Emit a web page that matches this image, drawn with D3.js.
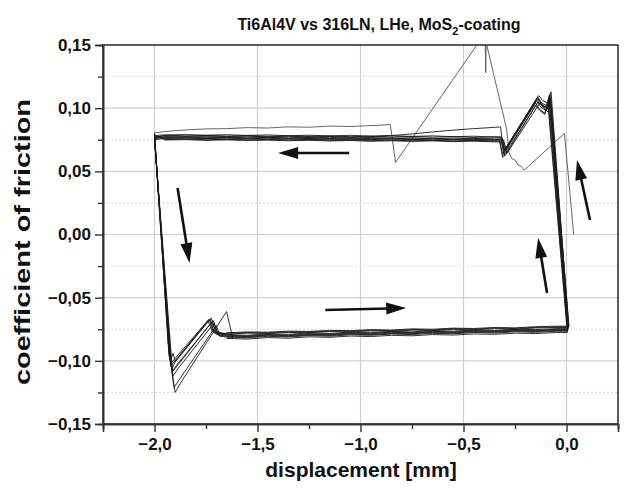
<!DOCTYPE html>
<html><head><meta charset="utf-8">
<script src="https://cdn.jsdelivr.net/npm/d3@7"></script>
<style>
body{margin:0;background:#fff}
text{font-family:"Liberation Sans",Arial,sans-serif;font-weight:bold;fill:#111}
</style>
</head><body>
<svg id="c" width="632" height="490"></svg>
<script>
// ---- axis ticks ----
const xMajor = [-2.0, -1.5, -1.0, -0.5, 0.0];
const xMinor = [-2.25, -1.75, -1.25, -0.75, -0.25, 0.25];
const yMajor = [0.15, 0.10, 0.05, 0.00, -0.05, -0.10, -0.15];
const yMinor = [0.125, 0.075, 0.025, -0.025, -0.075, -0.125];

// ---- first (run-in) sweep ----
const firstSweep = [[0.035,0.0],[-0.01,0.080],[-0.205,0.051],[-0.22,0.054],[-0.235,0.055],[-0.25,0.059],[-0.265,0.060],[-0.28,0.065],[-0.29,0.083],[-0.39,0.152],[-0.392,0.128],[-0.395,0.156],[-0.41,0.156],[-0.83,0.057],[-0.855,0.087],[-0.95,0.0862],[-1.05,0.0855],[-1.15,0.0858],[-1.25,0.0849],[-1.35,0.0852],[-1.45,0.0843],[-1.55,0.0846],[-1.65,0.0838],[-1.75,0.0836],[-1.85,0.0828],[-1.95,0.0815],[-2.0,0.0805]];

// ---- shared x positions of the sliding branches ----
const topX = [-0.35,-0.45,-0.55,-0.65,-0.75,-0.85,-0.95,-1.05,-1.15,-1.25,-1.35,-1.45,-1.55,-1.65,-1.75,-1.85,-1.95];
const botX = [-1.65,-1.55,-1.45,-1.35,-1.25,-1.15,-1.05,-0.95,-0.85,-0.75,-0.65,-0.55,-0.45,-0.35,-0.25,-0.15,-0.05];

// ---- left reversals (x=-2 -> start of lower branch), one per cycle ----
const leftTurns = [
 [[-2.0,0.0805],[-1.93,-0.095],[-1.92,-0.104],[-1.90,-0.100],[-1.73,-0.067],[-1.71,-0.078]],
 [[-2.0,0.0784],[-1.925,-0.098],[-1.915,-0.109],[-1.895,-0.104],[-1.72,-0.069],[-1.70,-0.079]],
 [[-2.0,0.0770],[-1.93,-0.092],[-1.92,-0.099],[-1.91,-0.094],[-1.90,-0.100],[-1.74,-0.068],[-1.72,-0.077]],
 [[-2.0,0.0763],[-1.92,-0.103],[-1.91,-0.112],[-1.885,-0.106],[-1.71,-0.070],[-1.69,-0.080]],
 [[-2.0,0.0750],[-1.915,-0.110],[-1.905,-0.121],[-1.88,-0.115],[-1.70,-0.072],[-1.68,-0.081]],
 [[-2.0,0.0788],[-1.925,-0.097],[-1.915,-0.106],[-1.90,-0.101],[-1.725,-0.066],[-1.705,-0.076]],
 [[-2.0,0.0765],[-1.92,-0.101],[-1.91,-0.108],[-1.89,-0.104],[-1.715,-0.068],[-1.695,-0.078]],
 [[-2.0,0.0778],[-1.93,-0.094],[-1.92,-0.102],[-1.90,-0.098],[-1.735,-0.067],[-1.715,-0.077]],
 [[-2.0,0.0755],[-1.91,-0.114],[-1.90,-0.125],[-1.875,-0.118],[-1.65,-0.061],[-1.635,-0.0715],[-1.62,-0.082]]
];

// ---- lower branch (moving right), y at botX ----
const bottomY = [
 [-0.0792,-0.0798,-0.0786,-0.0790,-0.0779,-0.0784,-0.0773,-0.0777,-0.0767,-0.0771,-0.0761,-0.0765,-0.0756,-0.0760,-0.0750,-0.0753,-0.0745],
 [-0.0807,-0.0813,-0.0801,-0.0806,-0.0795,-0.0799,-0.0788,-0.0793,-0.0782,-0.0786,-0.0776,-0.0780,-0.0770,-0.0774,-0.0764,-0.0768,-0.0760],
 [-0.0788,-0.0781,-0.0783,-0.0775,-0.0777,-0.0769,-0.0771,-0.0763,-0.0766,-0.0757,-0.0760,-0.0751,-0.0754,-0.0746,-0.0749,-0.0740,-0.0736],
 [-0.0812,-0.0818,-0.0806,-0.0811,-0.0800,-0.0805,-0.0794,-0.0798,-0.0788,-0.0792,-0.0782,-0.0786,-0.0776,-0.0780,-0.0770,-0.0774,-0.0766],
 [-0.0778,-0.0771,-0.0773,-0.0765,-0.0767,-0.0759,-0.0761,-0.0753,-0.0756,-0.0747,-0.0750,-0.0741,-0.0744,-0.0736,-0.0739,-0.0730,-0.0726],
 [-0.0797,-0.0803,-0.0791,-0.0796,-0.0785,-0.0790,-0.0779,-0.0783,-0.0773,-0.0777,-0.0767,-0.0771,-0.0761,-0.0765,-0.0756,-0.0759,-0.0751],
 [-0.0783,-0.0776,-0.0778,-0.0770,-0.0772,-0.0764,-0.0766,-0.0758,-0.0761,-0.0752,-0.0755,-0.0746,-0.0749,-0.0741,-0.0744,-0.0735,-0.0731],
 [-0.0802,-0.0808,-0.0796,-0.0801,-0.0790,-0.0794,-0.0783,-0.0788,-0.0777,-0.0781,-0.0771,-0.0775,-0.0766,-0.0770,-0.0760,-0.0763,-0.0755],
 [-0.0822,-0.0828,-0.0816,-0.0821,-0.0810,-0.0814,-0.0804,-0.0808,-0.0798,-0.0802,-0.0792,-0.0796,-0.0787,-0.0790,-0.0781,-0.0784,-0.0776]
];

// ---- right reversals (x=0 -> start of upper branch), one per cycle ----
const rightTurns = [
 [[0.008,-0.0745],[-0.080,0.110],[-0.095,0.100],[-0.12,0.103],[-0.14,0.108],[-0.30,0.066],[-0.315,0.0770]],
 [[0.006,-0.0760],[-0.085,0.106],[-0.10,0.098],[-0.125,0.101],[-0.145,0.106],[-0.305,0.064],[-0.32,0.0852]],
 [[0.010,-0.0736],[-0.075,0.113],[-0.09,0.104],[-0.115,0.106],[-0.135,0.110],[-0.295,0.068],[-0.31,0.0753]],
 [[0.005,-0.0766],[-0.088,0.104],[-0.105,0.096],[-0.13,0.099],[-0.15,0.104],[-0.31,0.063],[-0.325,0.0747]],
 [[0.012,-0.0726],[-0.078,0.108],[-0.093,0.099],[-0.118,0.102],[-0.138,0.105],[-0.30,0.062],[-0.315,0.0734]],
 [[0.007,-0.0751],[-0.082,0.111],[-0.097,0.102],[-0.12,0.104],[-0.14,0.109],[-0.30,0.067],[-0.315,0.0772]],
 [[0.011,-0.0731],[-0.076,0.107],[-0.09,0.097],[-0.11,0.100],[-0.13,0.104],[-0.29,0.064],[-0.305,0.0748]],
 [[0.006,-0.0755],[-0.084,0.109],[-0.10,0.101],[-0.122,0.103],[-0.142,0.107],[-0.305,0.066],[-0.32,0.0762]],
 [[0.004,-0.0776],[-0.09,0.103],[-0.105,0.095],[-0.128,0.098],[-0.15,0.102],[-0.31,0.061],[-0.325,0.0740]]
];

// ---- upper branch (moving left), y at topX ----
const topY = [
 [0.0772,0.0778,0.0774,0.0781,0.0776,0.0783,0.0779,0.0785,0.0780,0.0786,0.0782,0.0788,0.0784,0.0790,0.0786,0.0791,0.0788],
 [0.0848,0.0838,0.0826,0.0812,0.0796,0.0783,0.0774,0.0770,0.0776,0.0771,0.0778,0.0773,0.0779,0.0775,0.0781,0.0777,0.0782],
 [0.0752,0.0759,0.0755,0.0761,0.0757,0.0763,0.0759,0.0764,0.0760,0.0766,0.0762,0.0768,0.0764,0.0770,0.0766,0.0771,0.0768],
 [0.0748,0.0743,0.0750,0.0746,0.0752,0.0747,0.0754,0.0749,0.0755,0.0751,0.0757,0.0753,0.0758,0.0754,0.0760,0.0756,0.0761],
 [0.0733,0.0739,0.0735,0.0741,0.0737,0.0742,0.0738,0.0744,0.0740,0.0746,0.0742,0.0747,0.0744,0.0749,0.0745,0.0751,0.0748],
 [0.0773,0.0768,0.0775,0.0771,0.0777,0.0772,0.0778,0.0774,0.0780,0.0776,0.0781,0.0777,0.0783,0.0779,0.0784,0.0780,0.0786],
 [0.0747,0.0753,0.0749,0.0755,0.0751,0.0757,0.0753,0.0758,0.0754,0.0760,0.0756,0.0762,0.0758,0.0763,0.0759,0.0765,0.0762],
 [0.0763,0.0757,0.0764,0.0760,0.0766,0.0762,0.0768,0.0763,0.0769,0.0765,0.0771,0.0767,0.0772,0.0768,0.0774,0.0770,0.0776],
 [0.0738,0.0744,0.0740,0.0746,0.0742,0.0747,0.0743,0.0749,0.0745,0.0751,0.0747,0.0752,0.0748,0.0754,0.0750,0.0756,0.0752]
];

// ---- direction arrows: [tailX, tailY, tipX, tipY] in data units ----
const arrows = [
 [-1.055, 0.0645, -1.40, 0.0645],
 [-1.888, 0.0368, -1.83, -0.0226],
 [-1.171, -0.0598, -0.778, -0.0582],
 [-0.0945, -0.0463, -0.138, -0.0028],
 [0.114, 0.0115, 0.051, 0.059]
];

const svg = d3.select("#c");
const L = 103, R = 618, T = 45, B = 424;
const x = d3.scaleLinear().domain([-2.25, 0.25]).range([L, R]);
const y = d3.scaleLinear().domain([-0.15, 0.15]).range([B, T]);
const fmt = v => d3.format(".2f")(v).replace(".", ",").replace("-0,00","0,00");
const fmtX = v => d3.format(".1f")(v).replace(".", ",").replace("-0,0","0,0");

// grid
const grid = svg.append("g");
grid.selectAll("line.gx").data(xMajor).join("line")
  .attr("x1", d => x(d)).attr("x2", d => x(d)).attr("y1", T).attr("y2", B)
  .attr("stroke", "#cfcfcf").attr("stroke-width", 1.2);
grid.selectAll("line.gy").data(yMajor.filter(v => Math.abs(v) < 0.14)).join("line")
  .attr("x1", L).attr("x2", R).attr("y1", d => y(d)).attr("y2", d => y(d))
  .attr("stroke", "#cfcfcf").attr("stroke-width", 1.2);
grid.selectAll("line.gm").data(yMinor).join("line")
  .attr("x1", L).attr("x2", R).attr("y1", d => y(d)).attr("y2", d => y(d))
  .attr("stroke", "#d8d8d8").attr("stroke-width", 1).attr("stroke-dasharray", "2,2");

// clip
svg.append("clipPath").attr("id", "clip").append("rect")
  .attr("x", L).attr("y", T).attr("width", R - L).attr("height", B - T);

const line = d3.line().x(d => x(d[0])).y(d => y(d[1]));
const cyclesPts = [];
for (let i = 0; i < leftTurns.length; i++) {
  cyclesPts.push(...leftTurns[i]);
  botX.forEach((xx, j) => cyclesPts.push([xx, bottomY[i][j]]));
  cyclesPts.push(...rightTurns[i]);
  topX.forEach((xx, j) => cyclesPts.push([xx, topY[i][j]]));
}
const plot = svg.append("g").attr("clip-path", "url(#clip)");
plot.append("path").attr("d", line(firstSweep)).attr("fill", "none")
  .attr("stroke", "#555").attr("stroke-width", 0.9).attr("stroke-linejoin", "round");
plot.append("path").attr("d", line(cyclesPts)).attr("fill", "none")
  .attr("stroke", "#1a1a1a").attr("stroke-width", 0.9).attr("stroke-linejoin", "round");

// arrows
const arrG = svg.append("g");
arrows.forEach(a => {
  const x1 = x(a[0]), y1 = y(a[1]), x2 = x(a[2]), y2 = y(a[3]);
  const dx = x2 - x1, dy = y2 - y1, len = Math.hypot(dx, dy);
  const ux = dx / len, uy = dy / len, hl = 20, hw = 6;
  const bx = x2 - ux * hl, by = y2 - uy * hl;
  arrG.append("line").attr("x1", x1).attr("y1", y1).attr("x2", bx + ux * 2).attr("y2", by + uy * 2)
    .attr("stroke", "#111").attr("stroke-width", 2.6);
  arrG.append("path").attr("d", `M${x2},${y2}L${bx - uy * hw},${by + ux * hw}L${bx + uy * hw},${by - ux * hw}Z`)
    .attr("fill", "#111");
});

// frame
svg.append("rect").attr("x", L).attr("y", T).attr("width", R - L).attr("height", B - T)
  .attr("fill", "none").attr("stroke", "#333").attr("stroke-width", 1.6);

// axes
svg.append("g").attr("transform", `translate(0,${B})`)
  .call(d3.axisBottom(x).tickValues(xMajor).tickSize(8).tickPadding(6).tickFormat(fmtX));
svg.append("g").attr("transform", `translate(0,${B})`)
  .call(d3.axisBottom(x).tickValues(xMinor).tickSize(5).tickFormat(""));
svg.append("g").attr("transform", `translate(${L},0)`)
  .call(d3.axisLeft(y).tickValues(yMajor).tickSize(8).tickPadding(4).tickFormat(fmt));
svg.append("g").attr("transform", `translate(${L},0)`)
  .call(d3.axisLeft(y).tickValues(yMinor).tickSize(5).tickFormat(""));
svg.selectAll(".domain").attr("stroke", "#333").attr("stroke-width", 1.6);
svg.selectAll(".tick line").attr("stroke", "#333").attr("stroke-width", 1.4);
svg.selectAll(".tick text").attr("font-size", 17).attr("font-family", "Liberation Sans, Arial, sans-serif")
  .attr("font-weight", "bold").attr("fill", "#111");

// titles
const title = svg.append("text").attr("x", 379).attr("y", 30).attr("text-anchor", "middle").attr("font-size", 16);
title.append("tspan").text("Ti6Al4V vs 316LN, LHe, MoS");
title.append("tspan").attr("dy", 5).attr("font-size", 11).text("2");
title.append("tspan").attr("dy", -5).text("-coating");

svg.append("text").attr("x", 361).attr("y", 477).attr("text-anchor", "middle").attr("font-size", 21)
  .text("displacement [mm]");
svg.append("text").attr("transform", "translate(30,242) rotate(-90)").attr("text-anchor", "middle").attr("font-size", 22)
  .attr("textLength", 286).attr("lengthAdjust", "spacingAndGlyphs")
  .text("coefficient of friction");
</script>
</body></html>
